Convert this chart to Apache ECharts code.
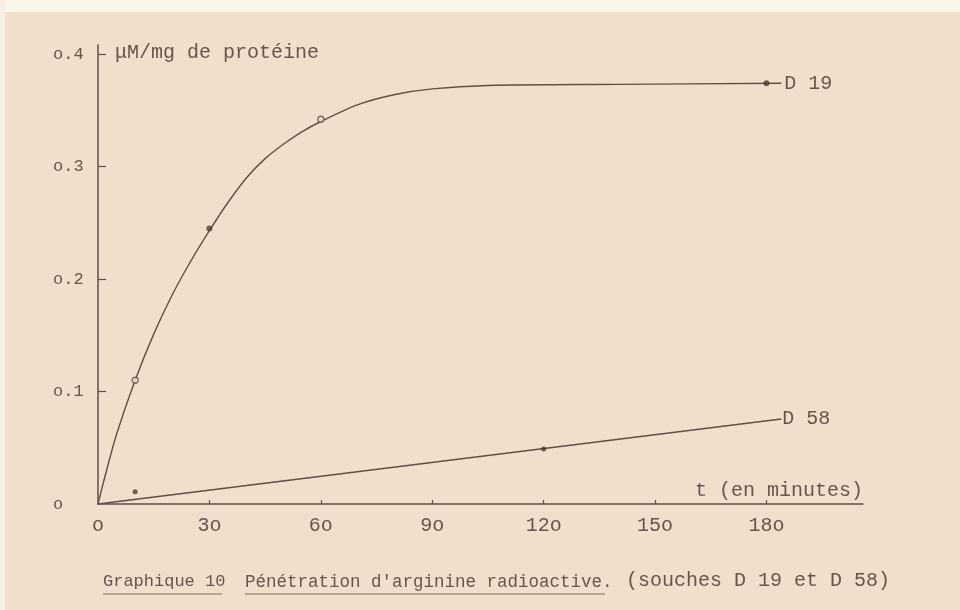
<!DOCTYPE html>
<html><head><meta charset="utf-8">
<script src="https://cdn.jsdelivr.net/npm/echarts@6/dist/echarts.min.js"></script>
<style>html,body{margin:0;padding:0;background:#efdfcc}#c{width:960px;height:610px}</style>
</head><body><div id="c"></div>
<script>
// time axis (minutes) and tick labels as typed on the original
const xTickValues = [0, 30, 60, 90, 120, 150, 180];
const xTickLabels = ['o', '3o', '6o', '9o', '12o', '15o', '18o'];
const yTickValues = [0, 0.1, 0.2, 0.3, 0.4];
const yTickLabels = ['o', 'o.1', 'o.2', 'o.3', 'o.4'];

const d19Points = [[10, 0.110], [30, 0.245], [60, 0.342], [180, 0.374]];
const d19Hollow = [true, false, true, false];
const d19Curve = [[0, 0], [2, 0.026], [5, 0.062], [10, 0.110], [15, 0.151], [20, 0.186], [25, 0.216],
  [30, 0.243], [35, 0.268], [40, 0.290], [45, 0.307], [50, 0.320], [55, 0.331], [60, 0.340], [70, 0.355],
  [80, 0.364], [90, 0.369], [105, 0.372], [140, 0.373], [184, 0.374]];

// D 58 — measured points and straight fitted line
const d58Points = [[10, 0.011], [120, 0.049]];
const d58Line = [[0, 0], [184, 0.0755]];

const ink = '#66564d';
const lineInk = '#5f4f47';
const mono = '"Liberation Mono", "DejaVu Sans Mono", monospace';

const chart = echarts.init(document.getElementById('c'), null, {renderer: 'canvas'});
chart.setOption({
  backgroundColor: '#efdfcc',
  animation: false,
  textStyle: {fontFamily: mono, color: ink},
  grid: {left: 98, right: 97, top: 45, bottom: 106},
  xAxis: {
    type: 'value', min: 0, max: 206,
    name: 't (en minutes)', nameLocation: 'end', nameGap: 0,
    nameTextStyle: {fontFamily: mono, fontSize: 20, color: ink, align: 'right', verticalAlign: 'bottom', padding: [0, 0, 3, 0]},
    axisLine: {lineStyle: {color: lineInk, width: 1.5}},
    axisTick: {show: true, inside: true, length: 4, customValues: xTickValues.slice(1), lineStyle: {color: lineInk, width: 1.2}},
    axisLabel: {customValues: xTickValues, fontFamily: mono, fontSize: 20, color: ink, margin: 12,
      formatter: v => xTickLabels[xTickValues.indexOf(v)] || ''},
    splitLine: {show: false}
  },
  yAxis: {
    type: 'value', min: 0, max: 0.408,
    name: 'μM/mg de protéine', nameLocation: 'end', nameGap: -18,
    nameTextStyle: {fontFamily: mono, fontSize: 20, color: ink, align: 'left', verticalAlign: 'bottom', padding: [0, 0, 0, 17]},
    axisLine: {lineStyle: {color: lineInk, width: 1.5}},
    axisTick: {show: true, inside: true, length: 8, customValues: yTickValues.slice(1), lineStyle: {color: lineInk, width: 1.2}},
    axisLabel: {customValues: yTickValues, fontFamily: mono, fontSize: 17, color: ink, margin: 45, align: 'left',
      formatter: v => yTickLabels[yTickValues.indexOf(v)] || ''},
    splitLine: {show: false}
  },
  series: [
    {
      name: 'D 19', type: 'line', data: d19Curve, smooth: 0.3, showSymbol: false,
      lineStyle: {color: lineInk, width: 1.4},
      endLabel: {show: true, formatter: 'D 19', fontFamily: mono, fontSize: 20, color: ink, distance: 3},
      z: 2
    },
    {
      name: 'D 19 points', type: 'scatter', symbolSize: 6, z: 3,
      data: d19Points.map((p, i) => ({value: p, itemStyle: d19Hollow[i]
        ? {color: '#efdfcc', borderColor: lineInk, borderWidth: 1.3}
        : {color: '#4a3c35'}}))
    },
    {
      name: 'D 58', type: 'line', data: d58Line, showSymbol: false,
      lineStyle: {color: lineInk, width: 1.4},
      endLabel: {show: true, formatter: 'D 58', fontFamily: mono, fontSize: 20, color: ink, distance: 1},
      z: 2
    },
    {
      name: 'D 58 points', type: 'scatter', symbolSize: 5, z: 3, itemStyle: {color: '#4a3c35'},
      data: d58Points
    }
  ],
  graphic: [
    {type: 'rect', left: 0, top: 0, shape: {width: 960, height: 12}, style: {fill: '#fbf6ec'}, silent: true},
    {type: 'rect', left: 0, top: 0, shape: {width: 5, height: 610}, style: {fill: '#f8efe2'}, silent: true},
    {type: 'text', left: 103, top: 573, style: {text: 'Graphique 10', font: '17px ' + mono, fill: ink}},
    {type: 'line', shape: {x1: 103, y1: 594, x2: 222, y2: 594}, style: {stroke: '#8a6a5a', lineWidth: 1.2}},
    {type: 'text', left: 245, top: 573, style: {text: "Pénétration d'arginine radioactive.", font: '17.5px ' + mono, fill: ink}},
    {type: 'line', shape: {x1: 245, y1: 594, x2: 605, y2: 594}, style: {stroke: '#8a6a5a', lineWidth: 1.2}},
    {type: 'text', left: 626, top: 571, style: {text: '(souches D 19 et D 58)', font: '20px ' + mono, fill: ink}}
  ]
});
</script></body></html>
